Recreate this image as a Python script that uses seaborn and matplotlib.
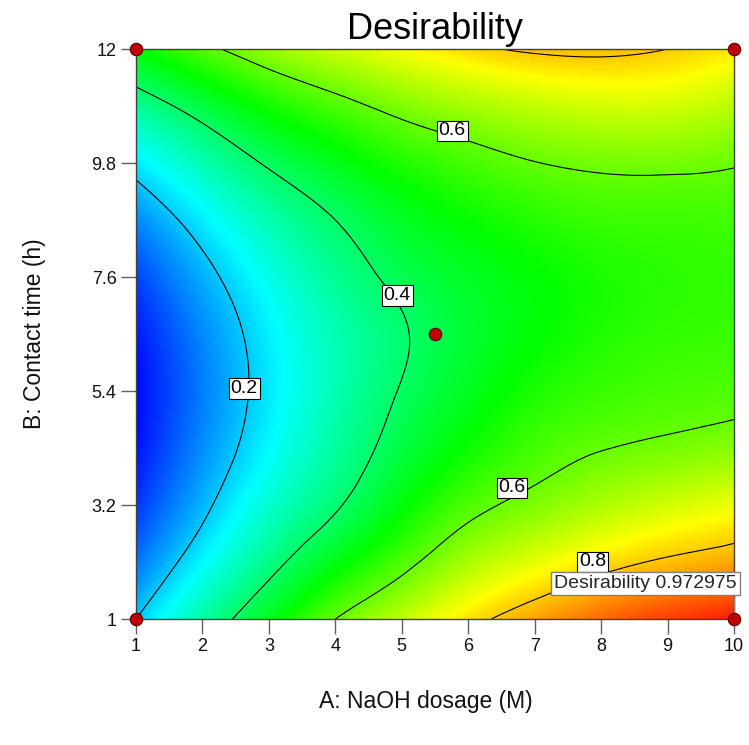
import numpy as np
import matplotlib
matplotlib.use("Agg")
import matplotlib.pyplot as plt
import matplotlib.tri as mtri
from matplotlib.colors import LinearSegmentedColormap
import seaborn as sns

# ---- data ----
naoh_dosage = [1, 2, 3, 4, 5, 6, 7, 8, 9, 10]                      # A (M)
contact_time = [1, 2.1, 3.2, 4.3, 5.4, 6.5, 7.6, 8.7, 9.8, 10.9, 12]  # B (h)

# desirability estimated on the grid: one row per contact time, one column per dosage
d_b01 = [0.200, 0.340, 0.473, 0.600, 0.690, 0.775, 0.840, 0.895, 0.940, 0.973]
d_b02 = [0.115, 0.248, 0.370, 0.480, 0.575, 0.665, 0.725, 0.775, 0.810, 0.835]
d_b03 = [0.055, 0.181, 0.296, 0.390, 0.490, 0.575, 0.625, 0.670, 0.705, 0.735]
d_b04 = [0.020, 0.141, 0.249, 0.345, 0.435, 0.510, 0.565, 0.597, 0.615, 0.635]
d_b05 = [0.010, 0.126, 0.231, 0.325, 0.405, 0.470, 0.525, 0.555, 0.570, 0.578]
d_b06 = [0.026, 0.137, 0.238, 0.325, 0.393, 0.452, 0.497, 0.530, 0.548, 0.555]
d_b07 = [0.068, 0.174, 0.271, 0.355, 0.420, 0.465, 0.498, 0.525, 0.540, 0.548]
d_b08 = [0.136, 0.236, 0.328, 0.400, 0.463, 0.505, 0.535, 0.555, 0.560, 0.563]
d_b09 = [0.231, 0.325, 0.410, 0.475, 0.530, 0.568, 0.598, 0.613, 0.615, 0.605]
d_b10 = [0.353, 0.437, 0.517, 0.574, 0.625, 0.662, 0.690, 0.707, 0.706, 0.680]
d_b11 = [0.500, 0.579, 0.648, 0.700, 0.745, 0.785, 0.810, 0.815, 0.800, 0.770]

contour_levels = [0.2, 0.4, 0.6, 0.8]
label_spots = [(2.63, 5.45), (4.93, 7.24), (6.66, 3.53), (5.76, 10.42), (7.87, 2.10)]

design_a = [1, 1, 10, 10, 5.5]
design_b = [1, 12, 12, 1, 6.5]

flag_text = "Desirability 0.972975"
x_ticks = [1, 2, 3, 4, 5, 6, 7, 8, 9, 10]
y_ticks = [1, 3.2, 5.4, 7.6, 9.8, 12]
y_tick_labels = ["1", "3.2", "5.4", "7.6", "9.8", "12"]

# ---- style ----
sns.set_theme(style="white")
plt.rcParams["font.family"] = ["Liberation Sans", "DejaVu Sans"]

fig = plt.figure(figsize=(7.49, 7.45), dpi=100)
ax = fig.add_axes([136 / 749, 1 - 619 / 745, (734 - 136) / 749, (619 - 49) / 745])

Z = np.array([d_b01, d_b02, d_b03, d_b04, d_b05, d_b06, d_b07, d_b08, d_b09, d_b10, d_b11])
AA, BB = np.meshgrid(naoh_dosage, contact_time)
nr, nc = Z.shape
tris = []
for r in range(nr - 1):
    for c in range(nc - 1):
        p00 = r * nc + c
        p01 = p00 + 1
        p10 = p00 + nc
        p11 = p10 + 1
        if (r + c) % 2 == 0:
            tris += [[p00, p01, p11], [p00, p11, p10]]
        else:
            tris += [[p00, p01, p10], [p01, p11, p10]]
tri = mtri.Triangulation(AA.ravel(), BB.ravel(), triangles=tris)
refiner = mtri.UniformTriRefiner(tri)
tri_f, z_f = refiner.refine_field(Z.ravel(), subdiv=5)

cmap = LinearSegmentedColormap.from_list(
    "dx", ["#0000FF", "#00FFFF", "#00FF00", "#FFFF00", "#FF0000"])
ax.tripcolor(tri_f, z_f, shading="gouraud", cmap=cmap, vmin=0.0, vmax=1.0,
             rasterized=True)

cs = ax.tricontour(tri_f, z_f, levels=contour_levels, colors="black", linewidths=0.8)
labels = ax.clabel(cs, fmt="%.1f", manual=label_spots, inline=False, fontsize=14)
for t, (lx, ly) in zip(labels, label_spots):
    t.set_rotation(0)
    t.set_position((lx, ly))
    t.set_bbox(dict(facecolor="white", edgecolor="black", pad=1.2, linewidth=0.8))
    t.set_zorder(6)

# design points
sns.scatterplot(x=design_a, y=design_b, ax=ax, color="#C00000", edgecolor="#5a0000",
                linewidth=0.8, s=80, zorder=8, clip_on=False, legend=False)

# flag
ax.plot([10, 10], [1, 1.42], color="#808080", lw=1, zorder=7, clip_on=False)
ax.text(10.04, 1.69, flag_text, ha="right", va="center", fontsize=14, zorder=9,
        clip_on=False,
        bbox=dict(facecolor="white", edgecolor="#808080", pad=2.2, linewidth=1))

ax.set_xlim(1, 10)
ax.set_ylim(1, 12)
ax.set_xticks(x_ticks)
ax.set_yticks(y_ticks)
ax.set_yticklabels(y_tick_labels)
ax.tick_params(axis="both", which="major", direction="out", length=11, width=1,
               color="#606060", labelsize=13, pad=3, labelcolor="#111111")
ax.tick_params(axis="x", bottom=True)
ax.tick_params(axis="y", left=True)
for s in ax.spines.values():
    s.set_color("#404040")
    s.set_linewidth(1)

ax.set_title("Desirability", fontsize=26, pad=7, color="black")
ax.set_xlabel("A: NaOH dosage (M)", fontsize=16.5, labelpad=24, color="#111111")
ax.xaxis.set_label_coords((426 - 136) / 598, -0.125)
ax.set_ylabel("B: Contact time (h)", fontsize=16.5, labelpad=33, color="#111111")

fig.savefig("out.png", dpi=100)
